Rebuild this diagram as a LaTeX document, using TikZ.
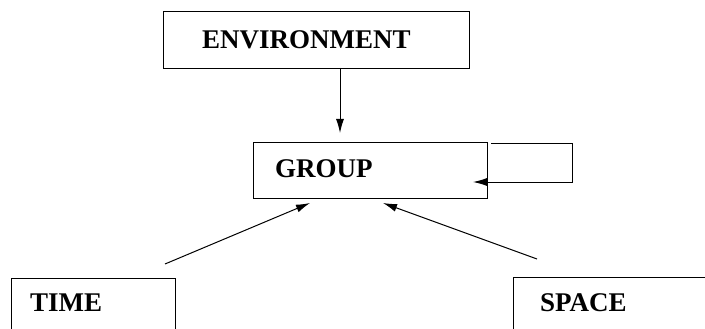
\documentclass[tikz,border=0pt]{standalone}
\usepackage{fontspec}
\setmainfont{Liberation Serif}
\usetikzlibrary{arrows.meta}
\begin{document}
\begin{tikzpicture}[x=1pt,y=-1pt,
  box/.style={draw,line width=1pt,inner sep=0pt,anchor=north west},
  lbl/.style={font=\bfseries\fontsize{27}{30}\selectfont,anchor=base west,inner sep=0pt},
  conn/.style={line width=1pt,-{Latex[length=14pt,width=8pt]}}]
\useasboundingbox (0,0) rectangle (705,329);
\clip (0,0) rectangle (705,329);
% boxes
\node[box,minimum width=306pt,minimum height=57pt] (env) at (163,11) {};
\node[box,minimum width=234pt,minimum height=56pt] (group) at (253,142) {};
\node[box,minimum width=164pt,minimum height=80pt] (time) at (11,278) {};
\node[box,minimum width=220pt,minimum height=80pt] (space) at (513,277) {};
% labels
\node[lbl] (envt) at (202,49) {ENVIRONMENT};
\node[lbl] (groupt) at (275,177) {GROUP};
\node[lbl] (timet) at (30,311) {TIME};
\node[lbl] (spacet) at (540,311) {SPACE};
% connector ends
\coordinate (envout) at (340,68);
\coordinate (groupin) at (340,133);
\coordinate (loopa) at (491,143);
\coordinate (loopb) at (572,143);
\coordinate (loopc) at (572,182);
\coordinate (loopd) at (473,182);
\coordinate (timeout) at (165,264);
\coordinate (timein) at (310,203);
\coordinate (spaceout) at (537,259);
\coordinate (spacein) at (383,203);
% connectors
\draw[conn] (envout) -- (groupin);
\draw[conn] (loopa) -- (loopb) -- (loopc) -- (loopd);
\draw[conn] (timeout) -- (timein);
\draw[conn] (spaceout) -- (spacein);
\end{tikzpicture}
\end{document}
